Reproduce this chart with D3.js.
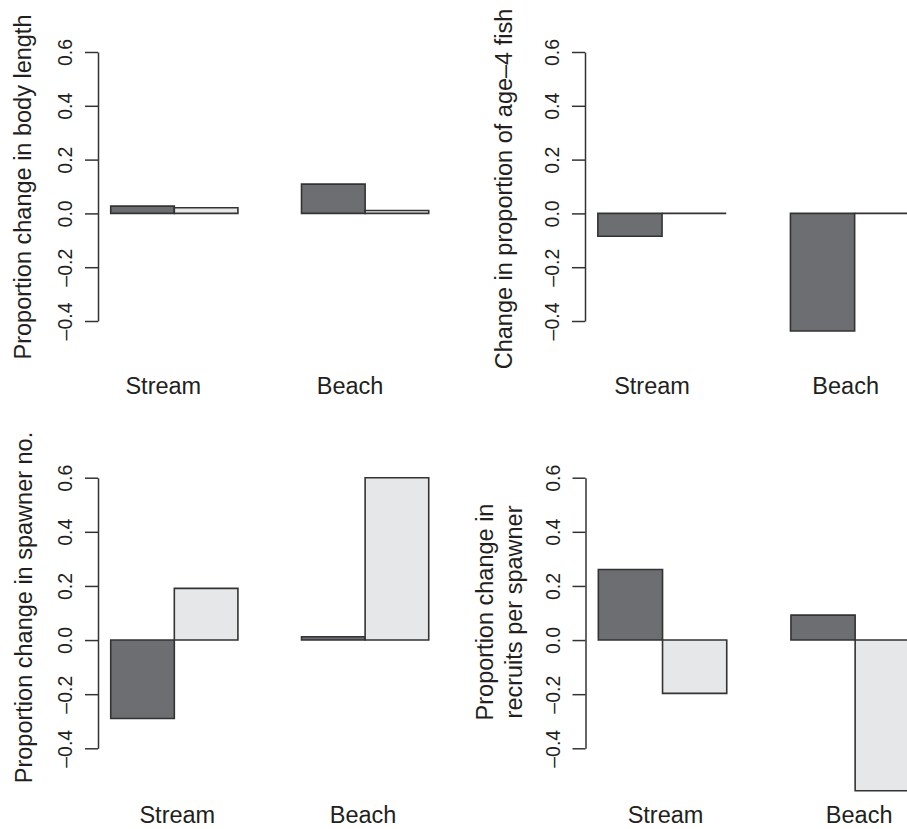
<!DOCTYPE html>
<html>
<head>
<meta charset="utf-8">
<script src="https://cdn.jsdelivr.net/npm/d3@7"></script>
<style>
  body { margin: 0; background: #fff; }
  text { font-family: "Liberation Sans", Arial, Helvetica, sans-serif; fill: #231f20; }
</style>
</head>
<body>
<svg id="chart" width="907" height="829"></svg>
<script>
// values
const sites = ["Stream", "Beach"];
const series = ["dark", "light"];
const bodyLength = [[0.027, 0.021], [0.109, 0.011]];
const age4Fish = [[-0.085, 0], [-0.437, 0]];
const spawnerNo = [[-0.29, 0.191], [0.012, 0.6]];
const recruitsPerSpawner = [[0.261, -0.197], [0.092, -0.557]];
const yTicks = [-0.4, -0.2, 0.0, 0.2, 0.4, 0.6];
const yTitles = [
  ["Proportion change in body length"],
  ["Change in proportion of age\u20134 fish"],
  ["Proportion change in spawner no."],
  ["Proportion change in", "recruits per spawner"]
];

const fills = { dark: "#6d6e71", light: "#e6e7e8" };

// panel placement (pixels)
const panels = [
  { values: bodyLength, title: yTitles[0], axisX: 98, unit: 63.6, yTop: 52, yBot: 321, titleX: 31, titleY: 187, labelY: 394, shift: [-11, -15] },
  { values: age4Fish, title: yTitles[1], axisX: 585, unit: 64.2, yTop: 52, yBot: 321, titleX: 512, titleY: 189, labelY: 394, shift: [-10, -9] },
  { values: spawnerNo, title: yTitles[2], axisX: 98, unit: 63.6, yTop: 477.7, yBot: 748.3, titleX: 32, titleY: 607.5, labelY: 823, shift: [3, -2] },
  { values: recruitsPerSpawner, title: yTitles[3], axisX: 585.5, unit: 64.2, yTop: 477.7, yBot: 748.3, titleX: 493, titleY: 612, labelY: 823, shift: [3, 4] }
];

const svg = d3.select("#chart");
const fmt = (d) => (d < 0 ? "\u2013" : "") + Math.abs(d).toFixed(1);

panels.forEach((p) => {
  const g = svg.append("g");

  // R barplot units: plot region spans 0.8 .. 6.2, groups at [1,3] and [4,6]
  const x = d3.scaleLinear().domain([0.8, 6.2]).range([p.axisX, p.axisX + 5.4 * p.unit]);
  const x0 = d3.scaleBand().domain(sites).range([x(1), x(6)]).paddingInner(1 / 3).paddingOuter(0);
  const x1 = d3.scaleBand().domain(series).range([0, x0.bandwidth()]);
  const y = d3.scaleLinear().domain([-0.4, 0.6]).range([p.yBot, p.yTop]);

  const bars = [];
  sites.forEach((s, i) => {
    series.forEach((k, j) => bars.push({ site: s, key: k, value: p.values[i][j] }));
  });

  g.selectAll("path.bar")
    .data(bars)
    .join("path")
    .attr("class", "bar")
    .attr("d", (d) => {
      const l = x0(d.site) + x1(d.key);
      const r = l + x1.bandwidth();
      return `M${l},${y(0)}H${r}V${y(d.value)}H${l}Z`;
    })
    .attr("fill", (d) => fills[d.key])
    .attr("stroke", "#333")
    .attr("stroke-width", 1.6);

  // y axis
  const ax = g.append("g")
    .attr("transform", `translate(${p.axisX},0)`)
    .call(d3.axisLeft(y).tickValues(yTicks).tickFormat(fmt).tickSize(13).tickSizeOuter(0));
  ax.select(".domain").attr("stroke", "#333").attr("stroke-width", 1.5);
  ax.selectAll(".tick line").attr("stroke", "#333").attr("stroke-width", 1.5);
  ax.selectAll(".tick text")
    .attr("transform", "rotate(-90)")
    .attr("x", 0)
    .attr("y", -26)
    .attr("dy", 0)
    .attr("text-anchor", "middle")
    .attr("fill", "#231f20")
    .style("font-size", "19.5px")
    .style("font-family", "'Liberation Sans', Arial, sans-serif");

  // axis title
  p.title.forEach((t, i) => {
    g.append("text")
      .attr("transform", `translate(${p.titleX + i * 28.7},${p.titleY}) rotate(-90)`)
      .attr("text-anchor", "middle")
      .style("font-size", "23.5px")
      .text(t);
  });

  // site labels
  g.selectAll("text.site")
    .data(sites)
    .join("text")
    .attr("class", "site")
    .attr("x", (d, i) => x0(d) + x0.bandwidth() / 2 + p.shift[i])
    .attr("y", p.labelY)
    .attr("text-anchor", "middle")
    .style("font-size", "23.5px")
    .text((d) => d);
});
</script>
</body>
</html>
